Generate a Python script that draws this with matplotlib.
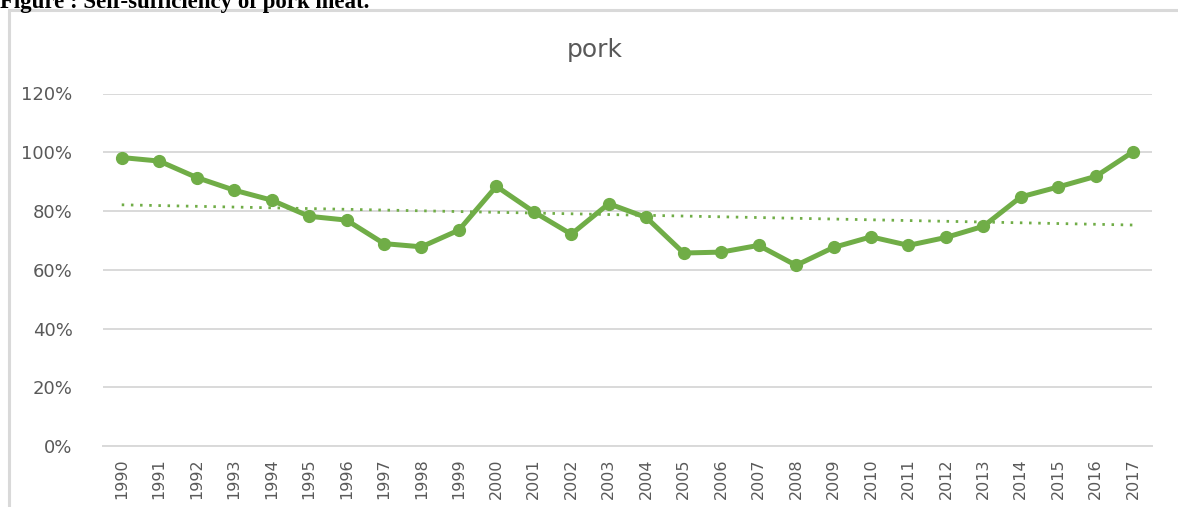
import numpy as np
import matplotlib.pyplot as plt
from matplotlib.patches import Rectangle
from matplotlib.ticker import PercentFormatter

# self-sufficiency ratio of pork, 1990-2017
years = list(range(1990, 2018))
pork = [98.2, 97.0, 91.4, 87.1, 83.7, 78.2, 76.9, 68.9, 67.8, 73.5,
        88.4, 79.7, 72.1, 82.5, 77.8, 65.7, 66.0, 68.3, 61.5, 67.6,
        71.2, 68.3, 71.0, 74.8, 84.8, 88.2, 91.8, 100.2]
yticks = [0, 20, 40, 60, 80, 100, 120]

green = '#70AD47'
grey_txt = '#595959'
grid_col = '#d9d9d9'

W, H = 1178, 507


def main():
    fig = plt.figure(figsize=(W / 100, H / 100), dpi=100)

    # caption sitting above the chart frame
    fig.text(0 / W, 1 - 8 / H, 'Figure : Self-sufficiency of pork meat.',
             family='Liberation Serif', weight='bold', fontsize=16.5,
             color='black', va='baseline', ha='left')

    # chart frame
    frame = Rectangle((9 / W, -0.1), 1.2, 1 - 10 / H + 0.1, transform=fig.transFigure,
                      facecolor='white', edgecolor=grid_col, lw=2.2, zorder=1)
    fig.patches.append(frame)

    ax = fig.add_axes([103 / W, 1 - 446 / H, 1049 / W, 352.5 / H], zorder=2)
    ax.patch.set_alpha(0)

    x = np.arange(len(years))
    ax.plot(x, pork, color=green, lw=3.6, marker='o', markersize=8.5,
            solid_joinstyle='round', zorder=3)

    # linear trend
    k, b = np.polyfit(x, pork, 1)
    ax.plot(x, k * x + b, color=green, lw=2.0, linestyle=(0, (0.9, 2.4)), zorder=2)

    ax.set_xlim(-0.5, len(years) - 0.5)
    ax.set_ylim(0, 120)
    ax.set_yticks(yticks)
    ax.yaxis.set_major_formatter(PercentFormatter(decimals=0))
    ax.set_xticks(x)
    ax.set_xticklabels([str(y) for y in years], rotation=90)

    ax.grid(axis='y', color=grid_col, lw=1.4)
    ax.set_axisbelow(True)
    for s in ['top', 'right', 'left']:
        ax.spines[s].set_visible(False)
    ax.spines['bottom'].set_color(grid_col)
    ax.spines['bottom'].set_linewidth(1.4)
    ax.tick_params(length=0)
    ax.tick_params(axis='y', pad=22, labelsize=13, labelcolor=grey_txt)
    ax.tick_params(axis='x', pad=9, labelsize=11.5, labelcolor=grey_txt)

    fig.text(595 / W, 1 - 57 / H, 'pork', fontsize=18, color=grey_txt,
             ha='center', va='baseline')

    fig.savefig('out.png', dpi=100)


if __name__ == "__main__":
    main()
